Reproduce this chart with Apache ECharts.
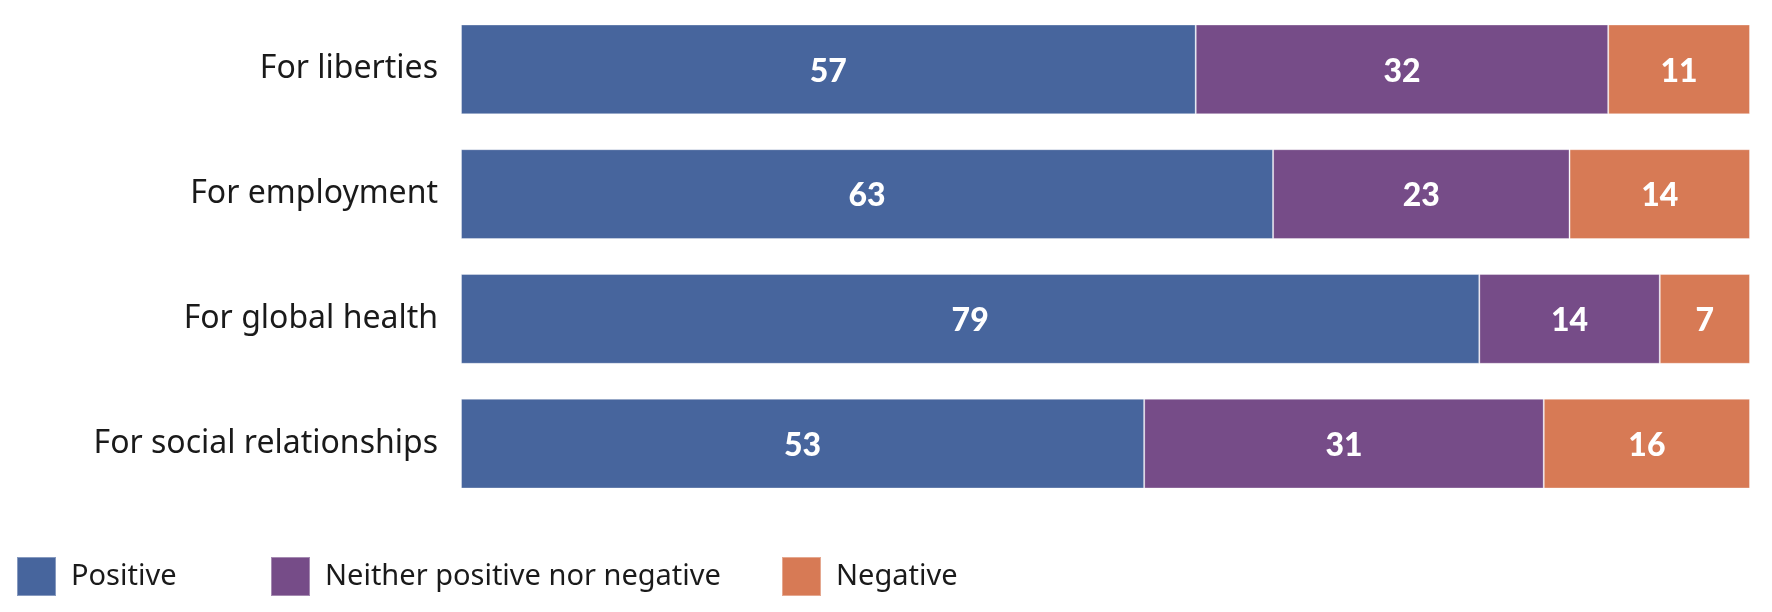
<!DOCTYPE html>
<html>
<head>
<meta charset="utf-8">
<script src="https://cdn.jsdelivr.net/npm/echarts@6/dist/echarts.min.js"></script>
<style>
  html, body { margin: 0; padding: 0; background: #fff; }
  #chart { width: 1772px; height: 612px; }
</style>
</head>
<body>
<div id="chart"></div>
<script>
var categories = ['For liberties', 'For employment', 'For global health', 'For social relationships'];
var positive = [57, 63, 79, 53];
var neither = [32, 23, 14, 31];
var negative = [11, 14, 7, 16];

var seriesNames = ['Positive', 'Neither positive nor negative', 'Negative'];
var colors = ['#47659d', '#764c88', '#d77a55'];
var legendLeft = [11, 265, 776];

var myChart = echarts.init(document.getElementById('chart'));

function makeSeries(name, data, color) {
  return {
    name: name,
    type: 'bar',
    stack: 'total',
    data: data,
    barCategoryGap: '28%',
    itemStyle: {
      color: color,
      borderColor: 'rgba(255,255,255,0.35)',
      borderWidth: 1
    },
    label: {
      show: true,
      position: 'inside',
      offset: [0, 2],
      color: '#fff',
      fontFamily: 'Lato',
      fontWeight: 900,
      fontSize: 32
    }
  };
}

var option = {
  animation: false,
  grid: { left: 461, right: 22, top: 7, bottom: 106 },
  legend: seriesNames.map(function (n, i) {
    return {
      data: [n],
      left: legendLeft[i],
      top: 551,
      icon: 'rect',
      itemWidth: 39,
      itemHeight: 39,
      selectedMode: false,
      textStyle: {
        fontFamily: 'Noto Sans',
        fontSize: 29,
        color: '#1a1a1a',
        padding: [0, 0, 0, 10]
      }
    };
  }),
  xAxis: {
    type: 'value',
    min: 0,
    max: 100,
    show: false
  },
  yAxis: {
    type: 'category',
    data: categories,
    inverse: true,
    axisLine: { show: false },
    axisTick: { show: false },
    axisLabel: {
      margin: 23,
      padding: [5, 0, 0, 0],
      fontFamily: 'Noto Sans',
      fontSize: 32,
      color: '#1a1a1a'
    }
  },
  series: [
    makeSeries(seriesNames[0], positive, colors[0]),
    makeSeries(seriesNames[1], neither, colors[1]),
    makeSeries(seriesNames[2], negative, colors[2])
  ]
};
option && myChart.setOption(option);
</script>
</body>
</html>
